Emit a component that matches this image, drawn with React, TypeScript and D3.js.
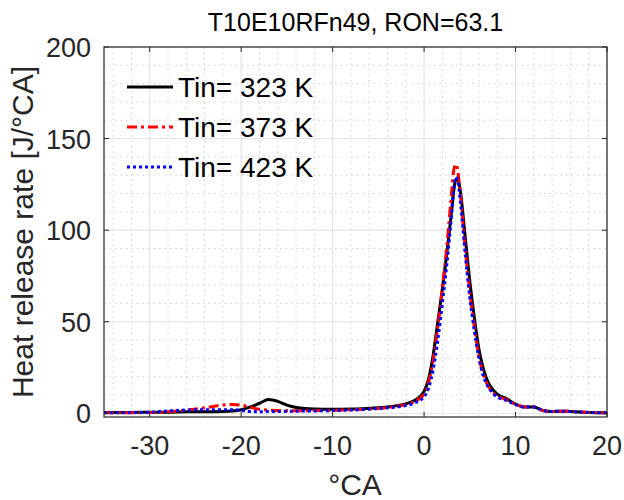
import React from 'react';
import * as d3 from 'd3';

// crank angle samples (°CA)
const cad = [-35, -32, -30, -28, -26, -24, -22, -21, -20, -19, -18, -17, -16, -15, -14, -12, -10, -8, -6, -4, -3, -2, -1,
  0, 0.5, 1, 1.5, 2, 2.5, 3, 3.25, 3.5, 3.75, 4, 4.5, 5, 5.5, 6, 6.5, 7, 7.5, 8, 9, 10, 11, 12, 13, 14, 15, 16, 18, 20];

const hrr323 = [0.5, 0.5, 0.6, 0.6, 0.8, 0.8, 1, 1.3, 2, 3.5, 5.5, 7.5, 6.5, 4.5, 3.2, 2.3, 2.2, 2.3, 2.8, 3.5, 4.2, 5.2, 7.2,
  12, 19, 32, 50, 68, 88, 110, 122, 128, 127, 120, 96, 72, 52, 35, 24, 17, 13, 10.5, 8, 5, 3.5, 3.5, 1.5, 1, 1.2, 1, 0.5, 0.3];

const hrr373 = [0.3, 0.3, 0.4, 0.8, 1.8, 3, 4.5, 4.8, 4.5, 3.3, 2.2, 1.8, 1.5, 1.4, 1.4, 1.5, 1.6, 1.9, 2.4, 3.2, 3.8, 4.6, 6.5,
  10.5, 17, 29, 47, 68, 92, 120, 133, 136, 130, 118, 90, 66, 47, 31, 21, 15, 11.5, 9.5, 7.5, 5, 3.5, 3.6, 1.5, 1, 1.2, 1, 0.5, 0.3];

const hrr423 = [0.3, 0.4, 0.6, 1.3, 1.8, 2, 2, 2, 1.6, 1, 0.9, 1, 1, 1.1, 1.2, 1.3, 1.5, 1.8, 2.3, 3, 3.5, 4.2, 5.8,
  9, 14, 24, 40, 60, 82, 108, 122, 129, 125, 114, 87, 63, 45, 30, 20, 14.5, 11, 9, 7, 4.8, 3.4, 3.5, 1.5, 1, 1.2, 1, 0.5, 0.3];

const xTicks = [-30, -20, -10, 0, 10, 20];
const yTicks = [0, 50, 100, 150, 200];

const series = [
  { name: 'Tin= 323 K', values: hrr323, color: '#000000', dash: '', width: 3 },
  { name: 'Tin= 373 K', values: hrr373, color: '#ff0000', dash: '10,4,3,4', width: 3 },
  { name: 'Tin= 423 K', values: hrr423, color: '#0000ff', dash: '3,3', width: 3 },
];

const W = 624, H = 500;
const m = { left: 104, right: 17, top: 47, bottom: 83 };
const font = '"Liberation Sans", Arial, Helvetica, sans-serif';
const ink = '#262626';

export default function App() {
  const x = d3.scaleLinear().domain([-35, 20]).range([m.left, W - m.right]);
  const y = d3.scaleLinear().domain([-2, 200]).range([H - m.bottom, m.top]);

  const line = d3.line<number>()
    .x((_, i) => x(cad[i]))
    .y(d => y(d))
    .curve(d3.curveMonotoneX);

  const minorX = d3.range(-34, 20, 2).filter(v => v % 10 !== 0);
  const minorY = d3.range(10, 200, 10).filter(v => v % 50 !== 0);

  return (
    <div style={{ position: 'absolute', left: 0, top: 0 }}>
      <svg width={W} height={H} style={{ display: 'block', background: '#fff' }} fontFamily={font}>
        {/* minor grid */}
        <g stroke="#cfcfcf" strokeWidth={1} strokeDasharray="1.5,4">
          {minorX.map(v => <line key={'mx' + v} x1={x(v)} x2={x(v)} y1={m.top} y2={H - m.bottom} />)}
          {minorY.map(v => <line key={'my' + v} y1={y(v)} y2={y(v)} x1={m.left} x2={W - m.right} />)}
        </g>
        {/* major grid */}
        <g stroke="#e0e0e0" strokeWidth={1}>
          {xTicks.map(v => <line key={'gx' + v} x1={x(v)} x2={x(v)} y1={m.top} y2={H - m.bottom} />)}
          {yTicks.map(v => <line key={'gy' + v} y1={y(v)} y2={y(v)} x1={m.left} x2={W - m.right} />)}
        </g>

        <g fill="none" strokeLinejoin="round">
          {series.map(s => (
            <path key={s.name} d={line(s.values) || ''} stroke={s.color} strokeWidth={s.width} strokeDasharray={s.dash} />
          ))}
        </g>

        {/* box + ticks */}
        <rect x={m.left} y={m.top} width={W - m.left - m.right} height={H - m.top - m.bottom} fill="none" stroke={ink} strokeWidth={1.2} />
        <g stroke={ink} strokeWidth={1}>
          {xTicks.map(v => <line key={'tx' + v} x1={x(v)} x2={x(v)} y1={H - m.bottom} y2={H - m.bottom - 5} />)}
          {xTicks.map(v => <line key={'tx2' + v} x1={x(v)} x2={x(v)} y1={m.top} y2={m.top + 5} />)}
          {yTicks.map(v => <line key={'ty' + v} x1={m.left} x2={m.left + 5} y1={y(v)} y2={y(v)} />)}
          {yTicks.map(v => <line key={'ty2' + v} x1={W - m.right} x2={W - m.right - 5} y1={y(v)} y2={y(v)} />)}
        </g>

        <g fill={ink} fontSize={27}>
          {xTicks.map(v => (
            <text key={'lx' + v} x={x(v)} y={455} textAnchor="middle">{v}</text>
          ))}
          {yTicks.map(v => (
            <text key={'ly' + v} x={91} y={y(v) + 10} textAnchor="end">{v}</text>
          ))}
        </g>

        <text x={(m.left + W - m.right) / 2} y={31} textAnchor="middle" fontSize={25} fill="#000">T10E10RFn49, RON=63.1</text>
        <text x={355} y={495} textAnchor="middle" fontSize={30} fill={ink}>°CA</text>
        <text transform={`translate(33,${(m.top + H - m.bottom) / 2}) rotate(-90)`} textAnchor="middle" fontSize={30} fill={ink}>
          Heat release rate [J/°CA]
        </text>

        {/* legend */}
        <g>
          {series.map((s, i) => (
            <g key={'lg' + s.name} transform={`translate(0,${87 + i * 40})`}>
              <line x1={127} x2={173} y1={0} y2={0} stroke={s.color} strokeWidth={s.width} strokeDasharray={s.dash} />
              <text x={178} y={10} fontSize={28} fill="#000">{s.name}</text>
            </g>
          ))}
        </g>
      </svg>
    </div>
  );
}
